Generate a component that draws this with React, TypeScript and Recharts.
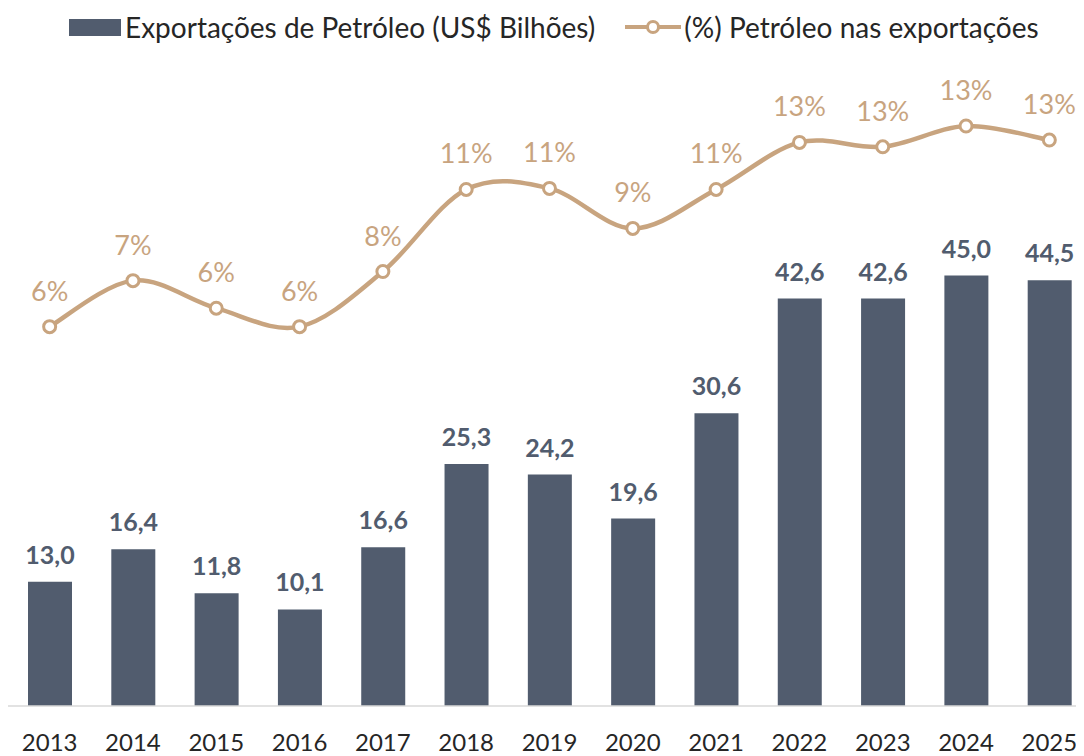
import { ComposedChart, Bar, Line, XAxis, YAxis, Legend, LabelList } from 'recharts';

const years = ['2013', '2014', '2015', '2016', '2017', '2018', '2019', '2020', '2021', '2022', '2023', '2024', '2025'];
const exportsOil = [13.0, 16.4, 11.8, 10.1, 16.6, 25.3, 24.2, 19.6, 30.6, 42.6, 42.6, 45.0, 44.5];
const oilShare = [5.6, 7.37, 6.31, 5.6, 7.72, 10.88, 10.92, 9.38, 10.88, 12.69, 12.52, 13.32, 12.78];

const BAR_COLOR = '#515C6E';
const LINE_COLOR = '#C8A47F';
const FONT = 'Lato, "Open Sans", sans-serif';

const data = years.map((year, i) => ({ year, exportsOil: exportsOil[i], oilShare: oilShare[i] }));

// smooth line like the spreadsheet's "smoothed line" (catmull-rom style)
function smoothCurve(context: any) {
  let pts: number[][] = [];
  return {
    areaStart() {},
    areaEnd() {},
    lineStart() {
      pts = [];
    },
    point(x: number, y: number) {
      pts.push([+x, +y]);
    },
    lineEnd() {
      const n = pts.length;
      if (!n) return;
      context.moveTo(pts[0][0], pts[0][1]);
      for (let i = 0; i < n - 1; i++) {
        const p0 = pts[Math.max(i - 1, 0)];
        const p1 = pts[i];
        const p2 = pts[i + 1];
        const p3 = pts[Math.min(i + 2, n - 1)];
        context.bezierCurveTo(
          p1[0] + (p2[0] - p0[0]) / 6,
          p1[1] + (p2[1] - p0[1]) / 6,
          p2[0] - (p3[0] - p1[0]) / 6,
          p2[1] - (p3[1] - p1[1]) / 6,
          p2[0],
          p2[1]
        );
      }
    },
  };
}

const LegendContent = () => (
  <div
    style={{
      height: 38,
      display: 'flex',
      alignItems: 'center',
      paddingLeft: 61,
      fontFamily: FONT,
      fontSize: 28,
      color: '#262626',
      whiteSpace: 'nowrap',
    }}
  >
    <span style={{ display: 'inline-block', width: 52, height: 17, background: BAR_COLOR, marginRight: 4 }} />
    <span>Exportações de Petróleo (US$ Bilhões)</span>
    <svg width={56} height={20} style={{ marginLeft: 30, marginRight: 3 }}>
      <line x1={0} y1={10} x2={56} y2={10} stroke={LINE_COLOR} strokeWidth={4} />
      <circle cx={28} cy={10} r={5.5} fill="#fff" stroke={LINE_COLOR} strokeWidth={3} />
    </svg>
    <span>(%) Petróleo nas exportações</span>
  </div>
);

export default function App() {
  return (
    <div style={{ width: 1076, overflow: 'hidden' }}>
      <ComposedChart width={1083} height={748} data={data} margin={{ top: 0, right: 0, left: 0, bottom: 0 }}>
        <Legend verticalAlign="top" align="left" content={<LegendContent />} wrapperStyle={{ top: 0, left: 0, height: 38 }} />
        <XAxis
          dataKey="year"
          height={50}
          tickLine={false}
          tickMargin={22}
          axisLine={{ stroke: '#D9D9D9', strokeWidth: 1.5 }}
          tick={{ fill: '#262626', fontSize: 24, fontFamily: FONT }}
          interval={0}
        />
        <YAxis yAxisId="left" hide domain={[0, 69]} />
        <YAxis yAxisId="right" hide orientation="right" domain={[-9, 16.4]} />
        <Bar yAxisId="left" dataKey="exportsOil" fill={BAR_COLOR} barSize={44} isAnimationActive={false}>
          <LabelList
            dataKey="exportsOil"
            position="top"
            offset={18}
            formatter={(v: any) => Number(v).toFixed(1).replace('.', ',')}
            style={{ fill: BAR_COLOR, fontSize: 25, fontWeight: 700, fontFamily: FONT }}
          />
        </Bar>
        <Line
          yAxisId="right"
          dataKey="oilShare"
          type={smoothCurve as any}
          stroke={LINE_COLOR}
          strokeWidth={4.5}
          dot={{ r: 6, fill: '#fff', stroke: LINE_COLOR, strokeWidth: 3 }}
          isAnimationActive={false}
        >
          <LabelList
            dataKey="oilShare"
            position="top"
            offset={26}
            formatter={(v: any) => `${Math.round(Number(v))}%`}
            style={{ fill: LINE_COLOR, fontSize: 27, fontFamily: FONT }}
          />
        </Line>
      </ComposedChart>
    </div>
  );
}
